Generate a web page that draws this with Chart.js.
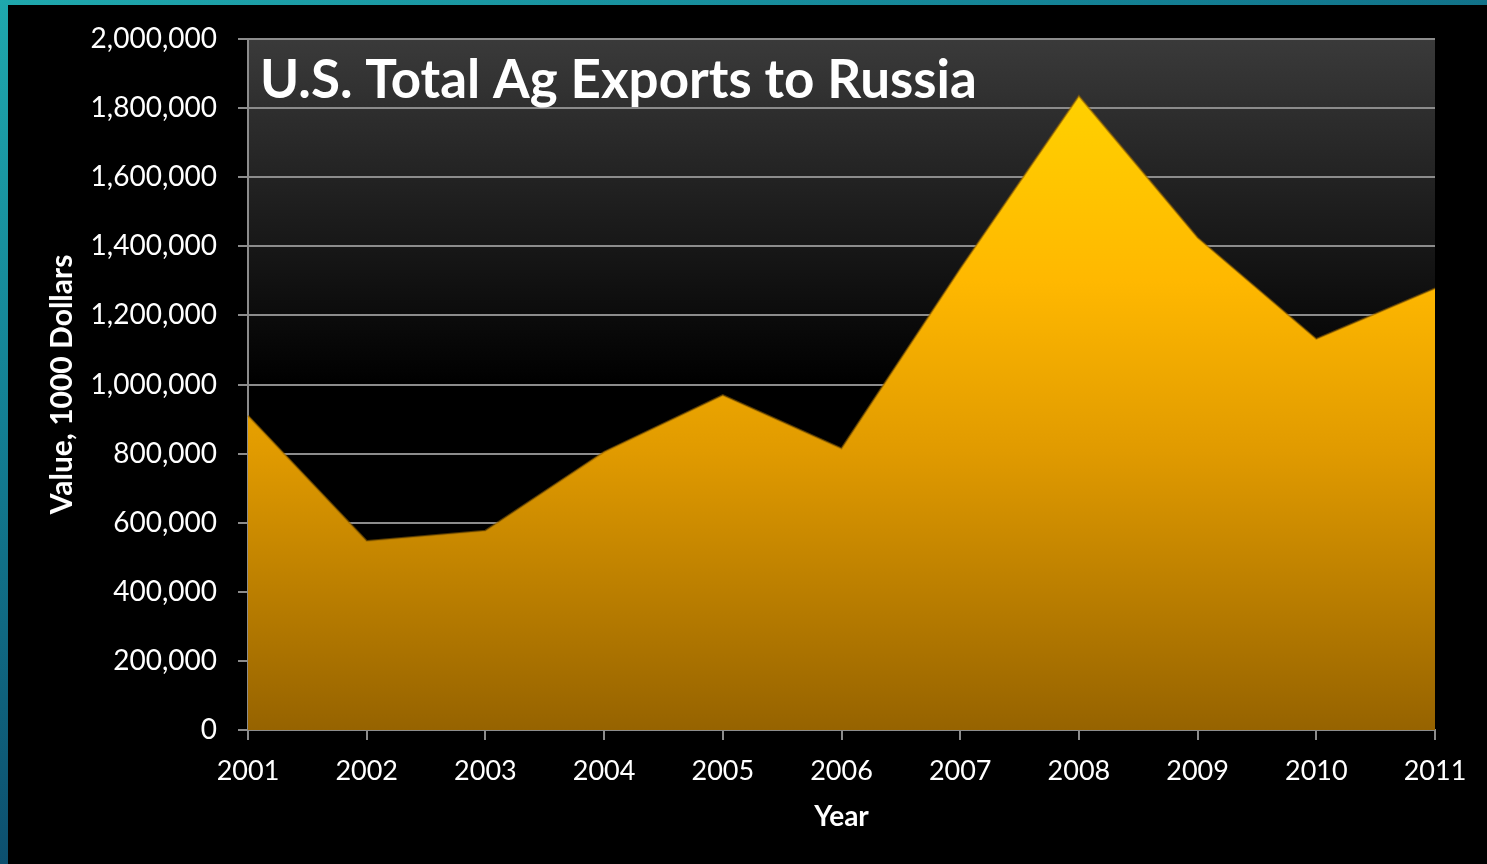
<!DOCTYPE html>
<html>
<head>
<meta charset="utf-8">
<script src="https://cdn.jsdelivr.net/npm/chart.js@4.4.1/dist/chart.umd.min.js"></script>
<style>
  html, body { margin: 0; padding: 0; width: 1487px; height: 864px; overflow: hidden; }
  body { background: linear-gradient(160deg, #1fa8ad 0%, #137f93 30%, #0c4a6a 65%, #0a2a48 100%); }
  #wrap { position: absolute; left: 8px; top: 5px; width: 1479px; height: 859px; background: #000; }
  canvas { display: block; }
</style>
</head>
<body>
<div id="wrap"><canvas id="c" width="1479" height="859"></canvas></div>
<script>
const chartTitle = 'U.S. Total Ag Exports to Russia';
const years = ['2001','2002','2003','2004','2005','2006','2007','2008','2009','2010','2011'];
const exportValues = [910000, 547000, 577000, 805000, 969000, 815000, 1335000, 1835000, 1425000, 1132000, 1278000];
const yAxisTitle = 'Value, 1000 Dollars';
const xAxisTitle = 'Year';
const yMin = 0, yMax = 2000000, yStep = 200000;

const plotBg = {
  id: 'plotBg',
  beforeDraw(chart) {
    const {ctx, chartArea: a} = chart;
    const g = ctx.createLinearGradient(0, a.top, 0, a.bottom);
    g.addColorStop(0, '#3a3a3a');
    g.addColorStop(0.5, '#000000');
    g.addColorStop(1, '#000000');
    ctx.save();
    ctx.fillStyle = g;
    ctx.fillRect(a.left, a.top, a.right - a.left, a.bottom - a.top);
    ctx.restore();
  }
};

const titlePlugin = {
  id: 'innerTitle',
  afterDraw(chart) {
    const {ctx, chartArea: a} = chart;
    ctx.save();
    let size = 56;
    ctx.font = 'bold ' + size + 'px Lato';
    const w = ctx.measureText(chartTitle).width;
    size = size * 717 / w;
    ctx.font = 'bold ' + size + 'px Lato';
    ctx.fillStyle = '#ffffff';
    ctx.textBaseline = 'alphabetic';
    ctx.textAlign = 'left';
    ctx.fillText(chartTitle, a.left + 12, 93);
    ctx.restore();
  }
};

const ctx = document.getElementById('c').getContext('2d');
new Chart(ctx, {
  type: 'line',
  data: {
    labels: years,
    datasets: [{
      data: exportValues,
      fill: 'origin',
      tension: 0,
      pointRadius: 0,
      borderWidth: 2,
      borderColor: 'rgba(150,100,0,0.55)',
      backgroundColor(c) {
        const a = c.chart.chartArea;
        if (!a) return '#f0a800';
        const g = c.chart.ctx.createLinearGradient(0, a.top, 0, a.bottom);
        g.addColorStop(0, '#ffd800');
        g.addColorStop(0.35, '#ffb800');
        g.addColorStop(0.6, '#e09a00');
        g.addColorStop(1, '#966300');
        return g;
      }
    }]
  },
  options: {
    responsive: false,
    animation: false,
    layout: { padding: { left: 0, top: 34, right: 52, bottom: 0 } },
    plugins: { legend: { display: false }, tooltip: { enabled: false } },
    scales: {
      x: {
        offset: false,
        grid: { drawOnChartArea: false, drawTicks: true, tickLength: 10, color: '#8c8c8c', lineWidth: 2 },
        border: { display: true, color: '#8c8c8c', width: 2 },
        ticks: { color: '#ffffff', font: { family: 'Lato', size: 27 }, padding: 15, maxRotation: 0, autoSkip: false },
        title: { display: true, text: xAxisTitle, color: '#ffffff', font: { family: 'Lato', size: 28, weight: 'bold' }, padding: { top: 0, bottom: 30 } },
        afterFit(s) { s.height = 134; }
      },
      y: {
        min: yMin, max: yMax,
        grid: { drawOnChartArea: true, drawTicks: true, tickLength: 10, color: '#8c8c8c', lineWidth: 2 },
        border: { display: true, color: '#8c8c8c', width: 2 },
        ticks: {
          stepSize: yStep, color: '#ffffff', font: { family: 'Lato', size: 28, lineHeight: 0.9 }, padding: 21,
          callback: v => v.toLocaleString('en-US')
        },
        title: { display: true, text: yAxisTitle, color: '#ffffff', font: { family: 'Lato', size: 30, weight: 'bold' }, padding: { top: 36, bottom: 0 } },
        afterFit(s) { s.width = 240; }
      }
    }
  },
  plugins: [plotBg, titlePlugin]
});
</script>
</body>
</html>
